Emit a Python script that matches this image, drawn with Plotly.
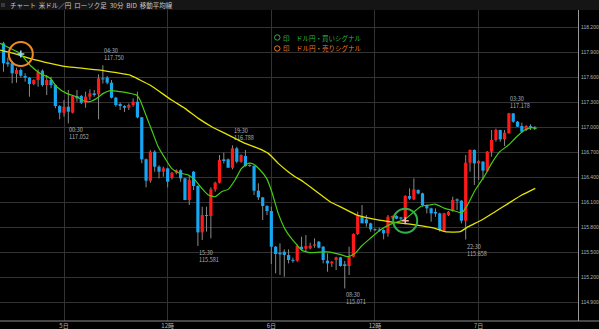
import plotly.graph_objects as go

# ---------------- data ----------------
opens = [118.013, 117.785, 117.773, 117.644, 117.692, 117.620, 117.600, 117.524, 117.572, 117.684,
         117.512, 117.572, 117.512, 117.260, 117.180, 117.252, 117.180, 117.380, 117.380, 117.300,
         117.372, 117.412, 117.400, 117.592, 117.600, 117.540, 117.360, 117.284, 117.260, 117.240,
         117.272, 117.312, 117.125, 116.621, 116.364, 116.712, 116.532, 116.472, 116.512, 116.400,
         116.460, 116.490, 116.392, 116.132, 116.472, 116.300, 115.744, 115.952, 115.940, 116.260,
         116.340, 116.620, 116.620, 116.520, 116.752, 116.592, 116.660, 116.552, 116.540, 116.244,
         116.164, 116.060, 116.000, 115.572, 115.500, 115.512, 115.472, 115.412, 115.404, 115.572,
         115.548, 115.552, 115.584, 115.632, 115.572, 115.404, 115.372, 115.412, 115.444, 115.360,
         115.340, 115.452, 115.724, 115.932, 115.900, 115.852, 115.780, 115.776, 115.772, 115.732,
         115.924, 115.940, 115.924, 115.908, 116.180, 116.140, 116.252, 116.212, 116.072, 116.032,
         115.990, 115.972, 115.764, 115.952, 116.004, 116.140, 116.124, 115.884, 116.580, 116.732,
         116.572, 116.592, 116.484, 116.712, 116.852, 116.972, 116.860, 116.932, 117.172, 117.072,
         117.020, 116.972, 117.020, 117.000]
highs = [118.030, 117.840, 117.800, 117.720, 117.710, 117.653, 117.610, 117.580, 117.700, 117.700,
         117.632, 117.612, 117.520, 117.270, 117.332, 117.452, 117.392, 117.452, 117.392, 117.432,
         117.460, 117.452, 117.640, 117.750, 117.620, 117.572, 117.370, 117.300, 117.270, 117.290,
         117.352, 117.432, 117.130, 116.630, 116.730, 116.730, 116.550, 116.532, 116.520, 116.470,
         116.500, 116.500, 116.400, 116.432, 116.480, 116.310, 116.052, 116.052, 116.284, 116.352,
         116.672, 116.700, 116.630, 116.788, 116.770, 116.680, 116.732, 116.560, 116.550, 116.332,
         116.170, 116.070, 116.052, 115.580, 115.612, 115.540, 115.540, 115.440, 115.600, 115.692,
         115.712, 115.620, 115.672, 115.640, 115.580, 115.492, 115.400, 115.452, 115.450, 115.400,
         115.572, 115.732, 115.992, 116.072, 115.952, 115.860, 115.790, 115.800, 115.780, 115.952,
         115.945, 115.950, 115.930, 116.190, 116.272, 116.392, 116.260, 116.220, 116.080, 116.040,
         116.032, 115.980, 115.980, 116.000, 116.172, 116.152, 116.130, 116.672, 116.740, 116.740,
         116.610, 116.600, 116.720, 116.972, 116.990, 116.975, 116.972, 117.178, 117.175, 117.080,
         117.060, 117.030, 117.040, 117.020]
lows = [117.672, 117.730, 117.533, 117.540, 117.600, 117.552, 117.372, 117.510, 117.492, 117.492,
        117.392, 117.473, 117.233, 117.100, 117.132, 117.052, 117.172, 117.312, 117.284, 117.240,
        117.332, 117.372, 117.100, 117.530, 117.520, 117.352, 117.252, 117.212, 117.190, 117.212,
        117.252, 117.113, 116.573, 116.284, 116.340, 116.472, 116.392, 116.412, 116.284, 116.380,
        116.440, 116.352, 116.130, 116.072, 116.252, 115.581, 115.652, 115.752, 115.672, 116.232,
        116.332, 116.572, 116.520, 116.500, 116.572, 116.580, 116.532, 116.530, 116.192, 116.132,
        115.892, 115.952, 115.364, 115.252, 115.232, 115.212, 115.372, 115.380, 115.390, 115.532,
        115.512, 115.540, 115.560, 115.550, 115.372, 115.272, 115.330, 115.292, 115.332, 115.071,
        115.232, 115.444, 115.712, 115.892, 115.812, 115.752, 115.760, 115.750, 115.660, 115.692,
        115.900, 115.900, 115.890, 115.872, 116.132, 116.132, 116.200, 116.052, 115.972, 115.872,
        115.930, 115.752, 115.752, 115.940, 115.992, 116.012, 115.852, 115.658, 116.472, 116.312,
        116.372, 116.372, 116.472, 116.652, 116.832, 116.832, 116.780, 116.932, 117.060, 117.010,
        116.940, 116.960, 116.972, 116.972]
closes = [117.773, 117.761, 117.653, 117.692, 117.624, 117.600, 117.524, 117.572, 117.672, 117.512,
          117.572, 117.512, 117.260, 117.180, 117.252, 117.192, 117.380, 117.352, 117.300, 117.372,
          117.412, 117.392, 117.592, 117.580, 117.540, 117.360, 117.272, 117.260, 117.240, 117.272,
          117.312, 117.125, 116.621, 116.364, 116.712, 116.532, 116.472, 116.512, 116.352, 116.460,
          116.490, 116.392, 116.132, 116.372, 116.300, 115.744, 115.952, 115.940, 116.260, 116.340,
          116.612, 116.600, 116.520, 116.752, 116.592, 116.672, 116.540, 116.540, 116.244, 116.164,
          116.060, 116.000, 115.572, 115.484, 115.480, 115.472, 115.412, 115.404, 115.580, 115.540,
          115.580, 115.584, 115.600, 115.560, 115.412, 115.372, 115.392, 115.444, 115.340, 115.340,
          115.452, 115.724, 115.940, 115.852, 115.852, 115.780, 115.772, 115.764, 115.732, 115.932,
          115.940, 115.908, 115.908, 116.180, 116.148, 116.260, 116.212, 116.072, 116.032, 115.972,
          115.970, 115.772, 115.972, 115.992, 116.132, 116.124, 115.884, 116.580, 116.732, 116.572,
          116.600, 116.484, 116.712, 116.852, 116.972, 116.860, 116.940, 117.172, 117.072, 117.012,
          116.952, 117.020, 117.004, 116.992]

# moving averages (bar position, price)
ma_short_x = [-0.8, 1.5, 3.8, 6.1, 8.4, 10.8, 12.3, 14.6, 16.9, 18.5, 20.0, 21.6, 23.1, 24.7, 27.0,
              29.3, 30.8, 31.6, 33.1, 34.3, 35.8, 37.4, 38.9, 40.5, 42.8, 44.3, 45.9, 47.4, 49.0,
              50.5, 52.0, 53.6, 55.1, 56.7, 57.8, 59.4, 60.9, 62.1, 63.6, 65.2, 66.5, 67.8, 69.0,
              71.0, 73.3, 75.6, 77.9, 79.8, 81.4, 82.9, 84.9, 87.2, 89.5, 91.4, 92.9, 94.9, 96.8,
              98.7, 99.9, 102.2, 104.5, 106.1, 107.2, 109.2, 111.5, 113.0, 114.9, 116.9, 118.8,
              120.7, 122.3, 123.4]
ma_short_y = [118.013, 117.953, 117.893, 117.752, 117.653, 117.593, 117.492, 117.412, 117.372,
              117.324, 117.312, 117.352, 117.412, 117.444, 117.432, 117.412, 117.392, 117.332,
              117.132, 116.972, 116.772, 116.632, 116.512, 116.460, 116.432, 116.372, 116.272,
              116.192, 116.172, 116.232, 116.260, 116.372, 116.512, 116.572, 116.564, 116.492,
              116.392, 116.232, 115.972, 115.780, 115.680, 115.600, 115.530, 115.500, 115.508,
              115.508, 115.480, 115.452, 115.492, 115.580, 115.672, 115.772, 115.840, 115.872,
              115.900, 115.985, 116.060, 116.072, 116.084, 116.032, 116.000, 115.980, 116.052,
              116.252, 116.432, 116.572, 116.712, 116.792, 116.892, 116.972, 117.000, 116.992]
ma_long_x = [-0.8, 2.3, 6.1, 10.8, 14.6, 18.5, 22.3, 26.2, 29.3, 31.6, 33.9, 38.9, 42.0, 45.1,
             48.2, 51.3, 53.6, 55.9, 59.0, 61.3, 63.6, 65.9, 67.5, 69.4, 72.5, 75.6, 78.7, 81.8,
             84.9, 87.9, 91.0, 94.1, 97.2, 99.9, 102.2, 105.7, 107.6, 110.7, 113.8, 116.9, 120.0,
             123.1]
ma_long_y = [117.932, 117.893, 117.833, 117.773, 117.732, 117.713, 117.692, 117.660, 117.632,
             117.572, 117.512, 117.332, 117.232, 117.112, 117.012, 116.932, 116.872, 116.812,
             116.752, 116.692, 116.572, 116.472, 116.412, 116.352, 116.232, 116.112, 116.032,
             115.952, 115.912, 115.884, 115.860, 115.844, 115.820, 115.792, 115.752, 115.752,
             115.812, 115.892, 115.992, 116.092, 116.192, 116.272]

# high / low labels
hl_idx = [23, 15, 45, 53, 79, 107, 117]
hl_kind = ["H", "L", "L", "H", "L", "L", "H"]
hl_time = ["04:30", "00:30", "15:30", "19:30", "08:30", "22:30", "03:30"]

# signals
sell_idx, sell_price = 4, 117.884
buy_idx, buy_price = 93, 115.884

tick_idx = [14, 38, 62, 86, 110]
tick_text = ["5日", "12時", "6日", "12時", "7日"]

title_text = "チャート  米ドル／円  ローソク足  30分  BID  移動平均線"
legend_buy = "印　ドル円・買いシグナル"
legend_sell = "印　ドル円・売りシグナル"

# ---------------- styles ----------------
UP = "#ff1a1a"
DN = "#17a6f2"
WICK = "#8a8a8a"
GRID = "#333333"
FONT = "Noto Sans CJK JP"
ORANGE = "#f08a24"
GREEN = "#2fb24a"

n = len(opens)
idx = list(range(n))

wx, wy = [], []
for i in idx:
    wx += [i, i, None]
    wy += [lows[i], highs[i], None]

def body_segments(up):
    bx, by = [], []
    for i, (o, c) in enumerate(zip(opens, closes)):
        if (c > o) != up:
            continue
        lo, hi = min(o, c), max(o, c)
        if hi - lo < 0.012:
            mid = (hi + lo) / 2
            lo, hi = mid - 0.006, mid + 0.006
        bx += [i, i, None]
        by += [lo, hi, None]
    return bx, by

fig = go.Figure()
fig.add_trace(go.Scatter(x=wx, y=wy, mode="lines", line=dict(color=WICK, width=1),
                         hoverinfo="skip", showlegend=False))
for up, col in ((True, UP), (False, DN)):
    bx, by = body_segments(up)
    fig.add_trace(go.Scatter(x=bx, y=by, mode="lines", line=dict(color=col, width=3.2),
                             hoverinfo="skip", showlegend=False))
fig.add_trace(go.Scatter(x=ma_long_x, y=ma_long_y, mode="lines",
                         line=dict(color="#e4e400", width=1.3, shape="spline", smoothing=0.5),
                         hoverinfo="skip", showlegend=False))
fig.add_trace(go.Scatter(x=ma_short_x, y=ma_short_y, mode="lines",
                         line=dict(color="#46cc12", width=1.2, shape="spline", smoothing=0.5),
                         hoverinfo="skip", showlegend=False))
# signal marks
fig.add_trace(go.Scatter(x=[sell_idx], y=[sell_price], mode="markers",
                         marker=dict(symbol="cross-thin-open", size=5, color="#9fd8ff", line=dict(width=1.5)),
                         hoverinfo="skip", showlegend=False))
fig.add_trace(go.Scatter(x=[buy_idx], y=[buy_price], mode="markers",
                         marker=dict(symbol="cross-thin-open", size=5, color="#ffb0c0", line=dict(width=1.5)),
                         hoverinfo="skip", showlegend=False))
fig.add_trace(go.Scatter(x=[sell_idx], y=[sell_price], mode="markers",
                         marker=dict(symbol="circle-open", size=24, color=ORANGE, line=dict(width=2)),
                         hoverinfo="skip", showlegend=False))
fig.add_trace(go.Scatter(x=[buy_idx], y=[buy_price], mode="markers",
                         marker=dict(symbol="circle-open", size=24, color=GREEN, line=dict(width=2)),
                         hoverinfo="skip", showlegend=False))

ann = []
for i, k, t in zip(hl_idx, hl_kind, hl_time):
    p = highs[i] if k == "H" else lows[i]
    ann.append(dict(x=i - 0.2, y=p, xref="x", yref="y", text=f"{t}<br>{p:.3f}", showarrow=False,
                    xanchor="left", yanchor="bottom" if k == "H" else "top",
                    yshift=1 if k == "H" else -1,
                    font=dict(size=5.5, color="#b4b4b4", family=FONT), align="left"))

W, H = 599, 329
L, R, T, B = 0, 21, 10, 8
pw, ph = W - L - R, H - T - B

def px(x):
    return (x - L) / pw

def py(y):
    return 1 - (y - T) / ph

ann.append(dict(x=px(8), y=py(5), xref="paper", yref="paper", text=title_text, showarrow=False,
                xanchor="left", yanchor="middle", font=dict(size=6.5, color="#c8c8c8", family=FONT)))
for txt, ypix, col in ((legend_buy, 37.5, GREEN), (legend_sell, 48.5, "#e8782a")):
    ann.append(dict(x=px(281), y=py(ypix), xref="paper", yref="paper", text=txt, showarrow=False,
                    xanchor="left", yanchor="middle", font=dict(size=6.5, color=col, family=FONT)))

shapes = [
    dict(type="rect", xref="paper", yref="paper", x0=px(0), x1=px(W), y0=py(10), y1=py(0),
         fillcolor="#151515", line=dict(width=0), layer="below"),
    dict(type="rect", xref="paper", yref="paper", x0=px(1), x1=px(5), y0=py(7), y1=py(3),
         fillcolor="#3a3a3a", line=dict(width=0)),
    dict(type="line", xref="paper", yref="paper", x0=px(0), x1=px(W), y0=py(321), y1=py(321),
         line=dict(color="#8c8c8c", width=1)),
    # small circle glyphs in front of the legend texts
    dict(type="circle", xref="paper", yref="paper", x0=px(274.5), x1=px(280), y0=py(40.2), y1=py(34.8),
         line=dict(color=GREEN, width=1)),
    dict(type="circle", xref="paper", yref="paper", x0=px(274.5), x1=px(280), y0=py(51.2), y1=py(45.8),
         line=dict(color="#e8782a", width=1)),
]

fig.update_layout(
    template="none",
    width=W, height=H,
    margin=dict(l=L, r=R, t=T, b=B, pad=0),
    paper_bgcolor="#000000", plot_bgcolor="#000000",
    showlegend=False, hovermode=False,
    annotations=ann, shapes=shapes,
    font=dict(family=FONT, color="#b4b4b4"),
    xaxis=dict(range=[-0.817, 133.0], tickmode="array", tickvals=tick_idx, ticktext=tick_text,
               showgrid=True, gridcolor=GRID, gridwidth=1, zeroline=False, showline=False,
               ticks="", tickfont=dict(size=6, color="#b4b4b4", family=FONT), automargin=False,
               fixedrange=True),
    yaxis=dict(range=[114.6803, 118.4124], side="right", tick0=114.9, dtick=0.3, tickformat=".3f",
               showgrid=True, gridcolor=GRID, gridwidth=1, zeroline=False, showline=True,
               linecolor="#9a9a9a", linewidth=1, ticks="", ticklabelstandoff=1,
               tickfont=dict(size=5, color="#b4b4b4", family="Liberation Sans"), automargin=False,
               fixedrange=True),
)

fig.write_html("out.html")
